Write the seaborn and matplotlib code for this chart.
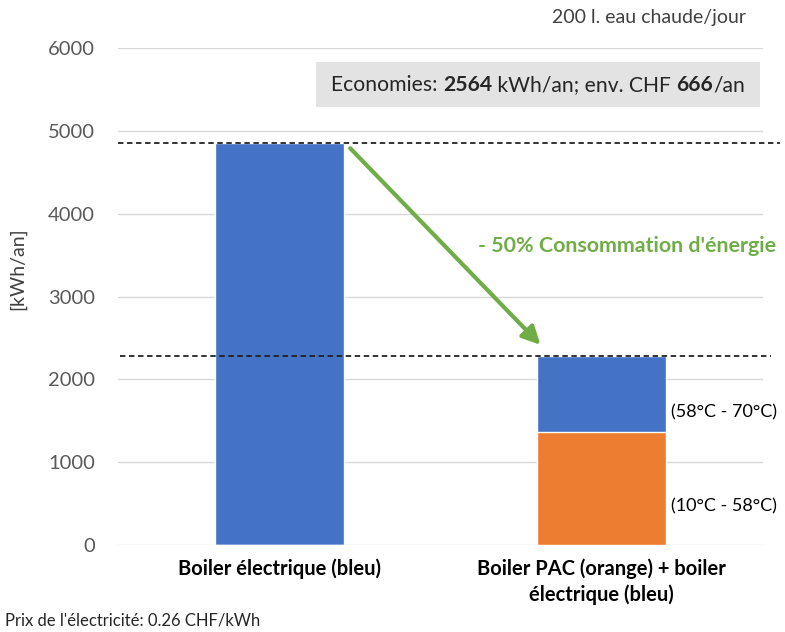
import matplotlib
matplotlib.use("Agg")
import matplotlib.pyplot as plt
import pandas as pd
import seaborn as sns
from matplotlib.offsetbox import AnnotationBbox, HPacker, TextArea
from matplotlib.patches import Rectangle

# Annual consumption in kWh/an
CATEGORIES = ["Boiler électrique (bleu)", "Boiler PAC (orange) + boiler\nélectrique (bleu)"]
ELEC_KWH = [4850, 921]      # electric heating part (blue)
PAC_KWH = [0, 1365]         # heat pump part (orange)
SEGMENT_LABELS = ["(58°C - 70°C)", "(10°C - 58°C)"]
SAVINGS_KWH = 2564
SAVINGS_CHF = 666
PRICE = 0.26

BLUE = "#4472C4"
ORANGE = "#ED7D31"
GREEN = "#70AD47"
GREY_TXT = "#595959"

sns.set_theme(style="white")
plt.rcParams["font.family"] = ["Lato", "DejaVu Sans"]

totals = [e + p for e, p in zip(ELEC_KWH, PAC_KWH)]
df = pd.DataFrame({"cat": CATEGORIES, "total": totals, "pac": PAC_KWH})

fig = plt.figure(figsize=(7.85, 6.32), dpi=100)
W, H = 785, 632
ax = fig.add_axes([118 / W, 1 - 545 / H, 645 / W, 497 / H])

sns.barplot(data=df, x="cat", y="total", color=BLUE, width=0.4,
            saturation=1, ax=ax, zorder=2)
sns.barplot(data=df, x="cat", y="pac", color=ORANGE, width=0.4,
            saturation=1, ax=ax, zorder=3)

ax.set_xlim(-0.5, 1.5)
ax.set_ylim(0, 6000)
ax.set_yticks(range(0, 6001, 1000))
ax.yaxis.grid(True, color="#d9d9d9", linewidth=1)
ax.set_axisbelow(True)
sns.despine(ax=ax, left=True, bottom=True)
ax.tick_params(axis="both", length=0)
ax.tick_params(axis="y", labelsize=14.5, labelcolor=GREY_TXT, pad=16.5)
ax.tick_params(axis="x", pad=9.5)
for lbl in ax.get_xticklabels():
    lbl.set_fontweight("bold")
    lbl.set_fontsize(14.5)
    lbl.set_color("black")
    lbl.set_linespacing(1.35)
    lbl.set_verticalalignment("top")
ax.set_xlabel("")
ax.set_ylabel("[kWh/an]", fontsize=14, color="#404040")
ax.yaxis.set_label_coords(-0.143, 0.555)

# dashed reference lines at both totals
ax.axhline(totals[0], xmin=0, xmax=1.027, color="#222222", linestyle=(0, (3, 2)),
           linewidth=1.3, clip_on=False, zorder=4)
ax.axhline(totals[1], xmin=0.003, xmax=1.012, color="#222222", linestyle=(0, (3, 2)),
           linewidth=1.3, clip_on=False, zorder=4)

# green arrow from first bar to second bar
ax.annotate("", xy=(0.81, totals[1] + 130), xytext=(0.22, totals[0] - 60),
            arrowprops=dict(arrowstyle="-|>,head_length=0.9,head_width=0.45",
                            color=GREEN, linewidth=3, shrinkA=0, shrinkB=0),
            zorder=5)
ax.text(1.08, 3610, "- 50% Consommation d'énergie", color=GREEN,
        fontsize=15.4, fontweight="bold", ha="center", va="center", zorder=5)

# segment labels
ax.text(1.215, PAC_KWH[1] + 0.25 * ELEC_KWH[1], SEGMENT_LABELS[0], fontsize=13,
        color="black", ha="left", va="center")
ax.text(1.215, 0.34 * PAC_KWH[1], SEGMENT_LABELS[1], fontsize=13,
        color="black", ha="left", va="center")

# top right note
fig.text(746 / W, 1 - 18 / H, "200 l. eau chaude/jour", fontsize=14,
         color="#404040", ha="right", va="center")

# savings box
fig.patches.append(Rectangle((316 / W, 1 - 107 / H), 444 / W, 45 / H,
                             transform=fig.transFigure, facecolor="#e3e3e3",
                             edgecolor="none", zorder=1))
parts = [
    ("Economies: ", "normal"),
    (str(SAVINGS_KWH), "bold"),
    (" kWh/an; env. CHF ", "normal"),
    (str(SAVINGS_CHF), "bold"),
    ("/an", "normal"),
]
children = [TextArea(t, textprops=dict(fontsize=15.2, fontweight=w, color="#262626"))
            for t, w in parts]
pack = HPacker(children=children, pad=0, sep=0, align="baseline")
ab = AnnotationBbox(pack, (538 / W, 1 - 85 / H), xycoords="figure fraction",
                    frameon=False, box_alignment=(0.5, 0.5), zorder=6)
fig.add_artist(ab)

# footer
fig.text(5 / W, 1 - 621 / H, f"Prix de l'électricité: {PRICE} CHF/kWh",
         fontsize=12, color="#262626", ha="left", va="center")

fig.savefig("out.png", dpi=100)
